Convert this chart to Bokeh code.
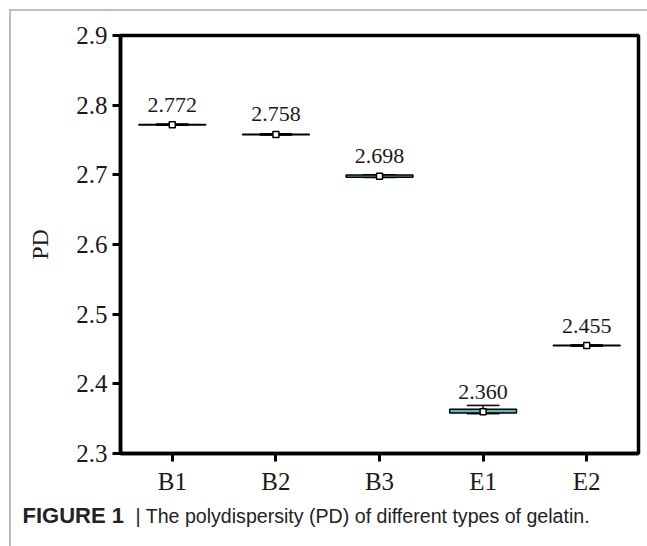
from bokeh.plotting import figure
from bokeh.models import ColumnDataSource, Range1d, FixedTicker
from bokeh.layouts import column, row
from bokeh.core.properties import value
from bokeh.embed import file_html
from bokeh.resources import INLINE

# data
cats = ["B1", "B2", "B3", "E1", "E2"]
means = [2.772, 2.758, 2.698, 2.360, 2.455]
q1 = [2.7716, 2.7576, 2.6966, 2.3580, 2.4546]
q3 = [2.7724, 2.7584, 2.6996, 2.3636, 2.4554]
w_low = [2.7712, 2.7572, 2.6962, 2.3572, 2.4542]
w_high = [2.7728, 2.7588, 2.7000, 2.3690, 2.4558]
labels = ["2.772", "2.758", "2.698", "2.360", "2.455"]
yticks = [2.3, 2.4, 2.5, 2.6, 2.7, 2.8, 2.9]
caption_bold = "FIGURE 1"
caption_text = "| The polydispersity (PD) of different types of gelatin."

src = ColumnDataSource(dict(cats=cats, means=means, q1=q1, q3=q3,
                            lo=w_low, hi=w_high, lab=labels))

# main chart: frame at x 120..638, y 35..453 of the window
p = figure(width=636, height=489, x_range=cats, y_range=Range1d(2.3, 2.9),
           output_backend="svg", toolbar_location=None,
           min_border_left=109, min_border_right=9, min_border_top=24,
           min_border_bottom=47)
p.grid.visible = False
p.background_fill_color = "white"
p.border_fill_color = "white"
p.outline_line_color = "black"
p.outline_line_width = 3.5

for ax in (p.xaxis, p.yaxis):
    ax.axis_line_width = 3.5
    ax.axis_line_color = "black"
    ax.major_tick_line_width = 3
    ax.major_tick_in = 0
    ax.major_tick_out = 8
    ax.minor_tick_line_color = None
    ax.major_label_text_font = "Liberation Serif"
    ax.major_label_text_font_size = "25px"
    ax.major_label_text_color = "#1a1a1a"
p.yaxis.ticker = FixedTicker(ticks=yticks)
p.yaxis.axis_label = "PD"
p.yaxis.axis_label_text_font = "Liberation Serif"
p.yaxis.axis_label_text_font_style = "normal"
p.yaxis.axis_label_text_font_size = "24px"
p.yaxis.axis_label_text_color = "#1a1a1a"
p.yaxis.axis_label_standoff = 20
p.xaxis.major_label_standoff = 6

# whiskers
p.segment(x0="cats", y0="lo", x1="cats", y1="hi", source=src, line_color="black", line_width=1.5)
p.rect(x="cats", y="hi", width=0.31, height=0.0008, source=src, fill_color="black", line_color="black", line_width=1)
p.rect(x="cats", y="lo", width=0.31, height=0.0008, source=src, fill_color="black", line_color="black", line_width=1)
# boxes
p.vbar(x="cats", bottom="q1", top="q3", width=0.645, source=src,
       fill_color="#66b8b8", line_color="black", line_width=1.5)
# mean markers
p.scatter(x="cats", y="means", source=src, marker="square", size=6,
          fill_color="white", line_color="black", line_width=1.5)
# value labels
p.text(x="cats", y="means", text="lab", source=src, text_align="center",
       text_baseline="alphabetic", y_offset=-20, text_font_size="22px",
       text_font=value("Liberation Serif"), text_color="#1a1a1a")

# caption strip
c = figure(width=636, height=46, x_range=Range1d(0, 636), y_range=Range1d(0, 46),
           output_backend="svg", toolbar_location=None,
           min_border=0, min_border_left=0, min_border_right=0,
           min_border_top=0, min_border_bottom=0)
c.axis.visible = False
c.grid.visible = False
c.outline_line_color = None
c.text(x=[11], y=[31], text=[caption_bold], text_font=value("Liberation Sans"),
       text_font_style="bold", text_font_size="22px", text_color="#222222",
       text_baseline="alphabetic", text_align="left")
c.text(x=[124], y=[31], text=[caption_text], text_font=value("Liberation Sans"),
       text_font_size="19.6px", text_color="#222222", text_baseline="alphabetic",
       text_align="left")

layout = column(p, row(c), spacing=0,
                styles={"border-top": "2px solid #bdbdbd",
                        "border-left": "2px solid #bdbdbd",
                        "margin-left": "9px", "margin-top": "9px"})

open("out.html", "w").write(file_html(layout, INLINE))
